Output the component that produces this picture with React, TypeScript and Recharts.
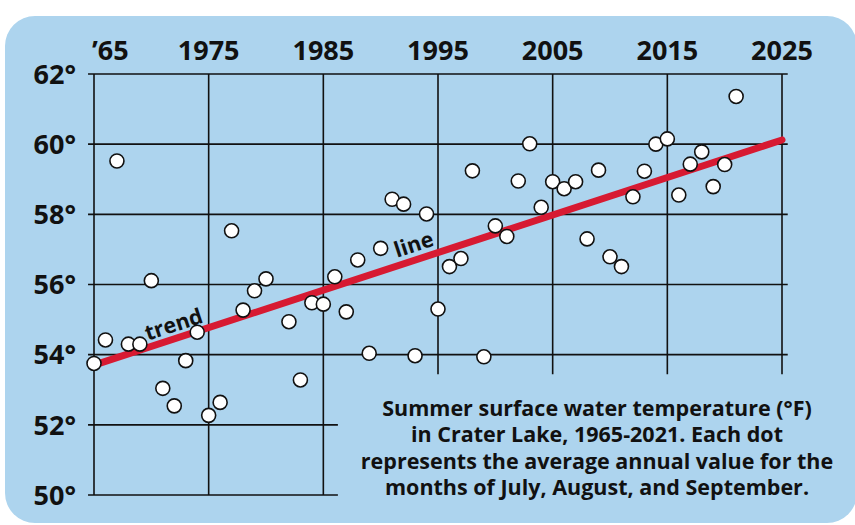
import { ReferenceDot, ReferenceLine, Scatter, ScatterChart, XAxis, YAxis } from "recharts";

// summer surface water temperature, Crater Lake (°F)
const years = [
  1965, 1966, 1967, 1968, 1969, 1970, 1971, 1972, 1973, 1974, 1975, 1976, 1977, 1978, 1979, 1980,
  1982, 1983, 1984, 1985, 1986, 1987, 1988, 1989, 1990, 1991, 1992, 1993, 1994, 1995, 1996, 1997,
  1998, 1999, 2000, 2001, 2002, 2003, 2004, 2005, 2006, 2007, 2008, 2009, 2010, 2011, 2012, 2013,
  2014, 2015, 2016, 2017, 2018, 2019, 2020, 2021,
];
const temps = [
  53.75, 54.42, 59.52, 54.3, 54.3, 56.11, 53.04, 52.54, 53.83, 54.64, 52.27, 52.64, 57.53, 55.27, 55.82, 56.16,
  54.94, 53.28, 55.48, 55.44, 56.22, 55.22, 56.7, 54.04, 57.03, 58.43, 58.29, 53.97, 58.01, 55.3, 56.51, 56.74,
  59.24, 53.94, 57.67, 57.37, 58.95, 60.01, 58.2, 58.93, 58.73, 58.93, 57.3, 59.26, 56.79, 56.51, 58.5, 59.23,
  60.0, 60.15, 58.55, 59.43, 59.78, 58.79, 59.42, 61.36,
];

const trendYears = [1965, 2025];
const trendTemps = [53.7, 60.12];

const xTicks = [1965, 1975, 1985, 1995, 2005, 2015, 2025];
const xTickLabels = ["\u201965", "1975", "1985", "1995", "2005", "2015", "2025"];
const yTicks = [50, 52, 54, 56, 58, 60, 62];

// grid extents (the caption box cuts the lower right corner)
const gridLeft = 1964.48;
const gridRight = 2025.5;
const captionLeft = 1986.27;
const captionTop = 53.44;

const caption = [
  "Summer surface water temperature (\u00b0F)",
  "in Crater Lake, 1965-2021. Each dot",
  "represents the average annual value for the",
  "months of July, August, and September.",
];

const BG = "#add4ee";
const RED = "#d71a32";
const INK = "#111";
const FONT = "'Open Sans', sans-serif";

const points = years.map((year, i) => ({ year, temp: temps[i] }));

function XTick(props: any) {
  const { x, y, payload, index } = props;
  const first = index === 0;
  return (
    <text x={first ? x - 2 : x} y={y} textAnchor={first ? "start" : "middle"} fontFamily={FONT} fontWeight={700} fontSize={27} fill={INK}>
      {xTickLabels[xTicks.indexOf(payload.value)]}
    </text>
  );
}

function YTick(props: any) {
  const { x, y, payload } = props;
  return (
    <text x={x} y={y} dy="0.36em" textAnchor="end" fontFamily={FONT} fontWeight={700} fontSize={27} fill={INK}>
      {payload.value}°
    </text>
  );
}

function Dot(props: any) {
  return <circle cx={props.cx} cy={props.cy} r={7} fill="#fff" stroke={INK} strokeWidth={1.6} />;
}

function lineLabel(text: string) {
  return (p: any) => (
    <text
      x={p.cx}
      y={p.cy}
      transform={`rotate(-18.1 ${p.cx} ${p.cy})`}
      textAnchor="middle"
      dominantBaseline="central"
      fontFamily={FONT}
      fontWeight={700}
      fontSize={21.5}
      fill={INK}
    >
      {text}
    </text>
  );
}

export default function App() {
  const hLines = yTicks.map((v) => ({ v, x2: v >= 54 ? gridRight : captionLeft }));
  const vLines = xTicks.map((v) => ({ v, y1: v <= 1985 ? 50 : captionTop }));

  return (
    <div style={{ position: "absolute", left: 0, top: 0, width: 855, height: 525, overflow: "hidden", background: "#fff" }}>
      <div style={{ position: "absolute", left: 5, top: 16, width: 852, height: 507, borderRadius: 30, background: BG }} />
      <div style={{ position: "absolute", left: 0, top: 0 }}>
        <ScatterChart width={855} height={525} margin={{ top: 0, right: 73, bottom: 30, left: 0 }}>
          <XAxis
            dataKey="year"
            type="number"
            orientation="top"
            domain={[1965, 2025]}
            ticks={xTicks}
            height={74}
            axisLine={false}
            tickLine={false}
            tickSize={0}
            tickMargin={14}
            tick={<XTick />}
            interval={0}
          />
          <YAxis
            dataKey="temp"
            type="number"
            domain={[50, 62]}
            ticks={yTicks}
            width={94}
            axisLine={false}
            tickLine={false}
            tickSize={0}
            tickMargin={18}
            tick={<YTick />}
            interval={0}
          />
          {hLines.map((h) => (
            <ReferenceLine
              key={`h${h.v}`}
              segment={[{ x: gridLeft, y: h.v }, { x: h.x2, y: h.v }]}
              stroke={INK}
              strokeWidth={1.6}
              ifOverflow="visible"
            />
          ))}
          {vLines.map((l) => (
            <ReferenceLine
              key={`v${l.v}`}
              segment={[{ x: l.v, y: l.y1 }, { x: l.v, y: 62 }]}
              stroke={INK}
              strokeWidth={1.6}
              ifOverflow="visible"
            />
          ))}
          <ReferenceLine
            segment={[{ x: trendYears[0], y: trendTemps[0] }, { x: trendYears[1], y: trendTemps[1] }]}
            stroke={RED}
            strokeWidth={7}
            strokeLinecap="round"
            ifOverflow="visible"
          />
          <ReferenceDot x={1971.92} y={54.89} r={0} shape={lineLabel("trend")} ifOverflow="visible" />
          <ReferenceDot x={1992.86} y={57.17} r={0} shape={lineLabel("line")} ifOverflow="visible" />
          <Scatter data={points} shape={<Dot />} isAnimationActive={false} />
        </ScatterChart>
      </div>
      <svg width={855} height={525} style={{ position: "absolute", left: 0, top: 0, pointerEvents: "none" }}>
        {caption.map((line, i) => (
          <text key={i} x={597} y={416 + i * 26.3} textAnchor="middle" fontFamily={FONT} fontWeight={700} fontSize={21.5} fill={INK}>
            {line}
          </text>
        ))}
      </svg>
    </div>
  );
}
